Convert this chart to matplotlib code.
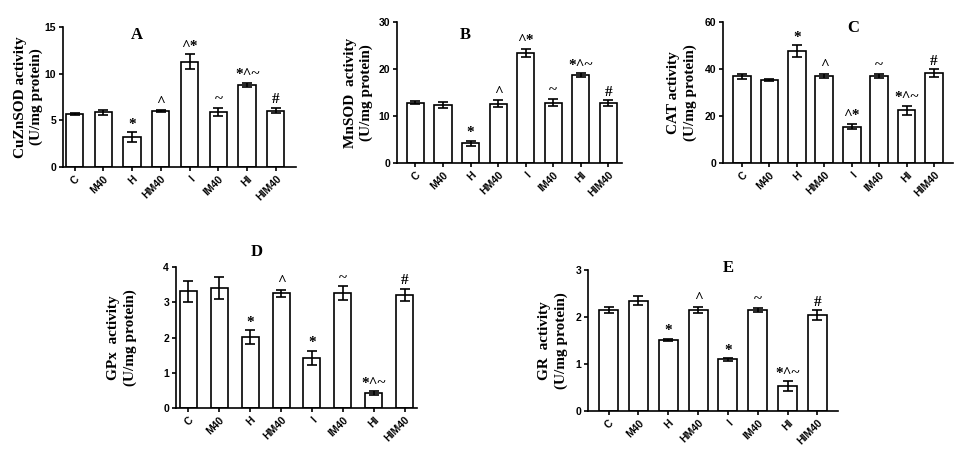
import matplotlib
matplotlib.use('Agg')
import matplotlib.pyplot as plt

# groups
groups = ['C', 'M40', 'H', 'HM40', 'I', 'IM40', 'HI', 'HIM40']

# panel A - CuZnSOD
cuznsod = [5.7, 5.85, 3.2, 6.0, 11.3, 5.9, 8.8, 6.05]
cuznsod_err = [0.1, 0.25, 0.5, 0.1, 0.8, 0.45, 0.25, 0.3]
cuznsod_sig = ['', '', '*', '^', '^*', '~', '*^~', '#']

# panel B - MnSOD
mnsod = [12.85, 12.3, 4.15, 12.6, 23.4, 12.85, 18.65, 12.75]
mnsod_err = [0.35, 0.6, 0.6, 0.7, 0.9, 0.8, 0.4, 0.6]
mnsod_sig = ['', '', '*', '^', '^*', '~', '*^~', '#']

# panel C - CAT
cat = [36.9, 35.3, 47.6, 37.0, 15.5, 37.0, 22.4, 38.3]
cat_err = [1.0, 0.4, 2.5, 1.0, 1.2, 0.9, 2.0, 1.5]
cat_sig = ['', '', '*', '^', '^*', '~', '*^~', '#']

# panel D - GPx
gpx = [3.31, 3.41, 2.01, 3.26, 1.43, 3.26, 0.43, 3.21]
gpx_err = [0.3, 0.32, 0.2, 0.1, 0.2, 0.2, 0.05, 0.18]
gpx_sig = ['', '', '*', '^', '*', '~', '*^~', '#']

# panel E - GR
gr = [2.15, 2.35, 1.51, 2.15, 1.1, 2.15, 0.53, 2.04]
gr_err = [0.07, 0.1, 0.03, 0.07, 0.03, 0.05, 0.11, 0.11]
gr_sig = ['', '', '*', '^', '*', '~', '*^~', '#']

W, H = 960, 451

def px_axes(fig, left, right, top, bottom):
    return fig.add_axes([left / W, (H - bottom) / H, (right - left) / W, (bottom - top) / H])


def bar_panel(ax, vals, errs, sig, ymax, step, ylabel, lab_x, letter, let_pos,
              xlim, width):
    x = list(range(len(groups)))
    ax.bar(x, vals, width=width, color='white', edgecolor='black', linewidth=1.2, zorder=2)
    ax.errorbar(x, vals, yerr=errs, fmt='none', ecolor='black', elinewidth=1.2,
                capsize=3.5, capthick=1.2, zorder=3)
    for i in range(len(x)):
        if sig[i]:
            ax.annotate(sig[i], (x[i], vals[i] + errs[i]), xytext=(0, 1),
                        textcoords='offset points', ha='center', va='bottom',
                        fontsize=11, fontweight='bold', family='Liberation Serif')
    ax.set_ylim(0, ymax)
    ax.set_xlim(*xlim)
    ticks = []
    t = 0
    while t <= ymax + 1e-9:
        ticks.append(t)
        t += step
    ax.set_yticks(ticks)
    ax.set_yticklabels([('%g' % v) for v in ticks], fontsize=7.5, fontweight='bold',
                       family='Liberation Sans')
    ax.set_xticks(x)
    ax.set_xticklabels(groups, rotation=45, ha='right', rotation_mode='anchor',
                       fontsize=7.5, fontweight='bold', family='Liberation Sans')
    ax.spines['top'].set_visible(False)
    ax.spines['right'].set_visible(False)
    ax.spines['left'].set_linewidth(1.2)
    ax.spines['bottom'].set_linewidth(1.2)
    ax.tick_params(direction='out', length=3, width=1.2, pad=2)
    ax.set_ylabel(ylabel, fontsize=11, fontweight='bold', family='Liberation Serif',
                  linespacing=1.3)
    ax.yaxis.set_label_coords(lab_x, 0.5)
    fig.text(let_pos[0] / W, 1 - let_pos[1] / H, letter, ha='center', va='center',
             fontsize=12, fontweight='bold', family='Liberation Serif')


fig = plt.figure(figsize=(9.6, 4.51), dpi=100)

axA = px_axes(fig, 63, 296, 27, 167)
bar_panel(axA, cuznsod, cuznsod_err, cuznsod_sig, 15, 5,
          'CuZnSOD activity\n(U/mg protein)', -0.085, 'A', (137, 35), (-0.4, 7.7), 0.6)

axB = px_axes(fig, 397, 622, 22, 163)
bar_panel(axB, mnsod, mnsod_err, mnsod_sig, 30, 10,
          'MnSOD  activity\n(U/mg protein)', -0.105, 'B', (465, 35), (-0.67, 7.5), 0.62)

axC = px_axes(fig, 723, 953, 22, 163)
bar_panel(axC, cat, cat_err, cat_sig, 60, 20,
          'CAT activity\n(U/mg protein)', -0.115, 'C', (853, 28), (-0.69, 7.69), 0.64)

axD = px_axes(fig, 176, 417, 267, 408)
bar_panel(axD, gpx, gpx_err, gpx_sig, 4, 1,
          'GPx  activity\n(U/mg protein)', -0.162, 'D', (257, 252), (-0.4, 7.4), 0.55)

axE = px_axes(fig, 588, 838, 270, 411)
bar_panel(axE, gr, gr_err, gr_sig, 3, 1,
          'GR  activity\n(U/mg protein)', -0.08, 'E', (728, 268), (-0.69, 7.69), 0.64)

fig.savefig('out.png', dpi=100, facecolor='white')
